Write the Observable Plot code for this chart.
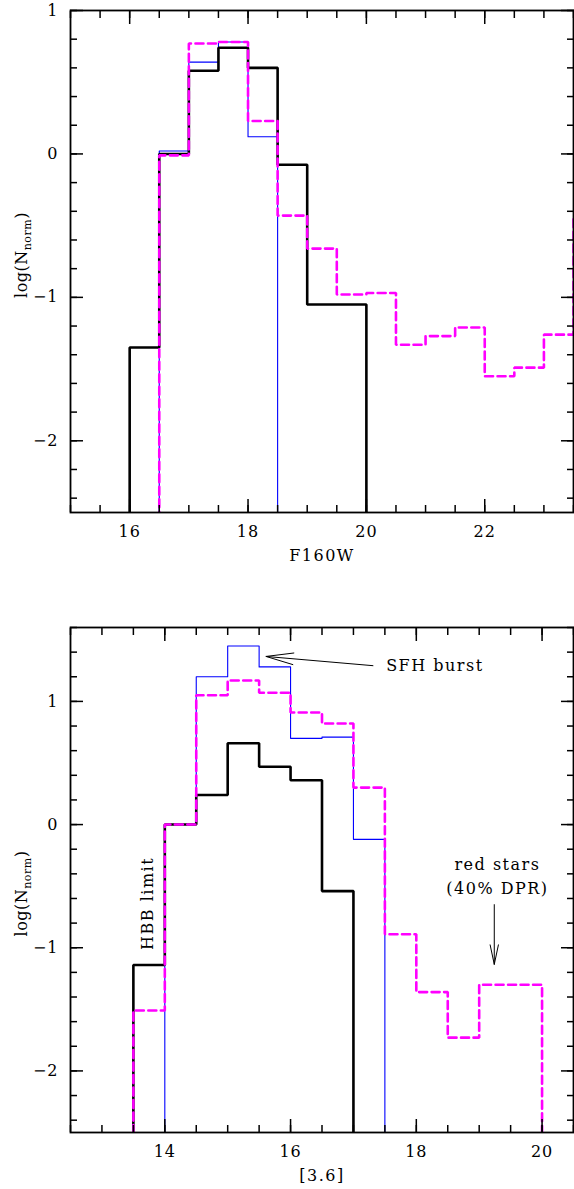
<!DOCTYPE html>
<html><head><meta charset="utf-8">
<script src="https://cdn.jsdelivr.net/npm/d3@7"></script>
<script src="https://cdn.jsdelivr.net/npm/@observablehq/plot@0.6"></script>
<style>
body{margin:0;background:#fff}
#chart svg{display:block}
</style>
</head><body><div id="chart"></div>
<script>
// ---------- data ----------
const BIN = 0.5;        // bin width (mag)
const EMPTY = -9;       // log of an empty bin (drawn below the axis and clipped)

// Top panel: F160W
const topBinStarts = [16,16.5,17,17.5,18,18.5,19,19.5,20,20.5,21,21.5,22,22.5,23,23.5];
const topBlack   = [-1.35,0.00,0.58,0.74,0.60,-0.075,-1.05,-1.05,null,null,null,null,null,null,null,null];
const topBlue    = [null,0.02,0.64,0.78,0.12,null,null,null,null,null,null,null,null,null,null,null];
const topMagenta = [null,-0.01,0.77,0.78,0.23,-0.43,-0.66,-0.98,-0.97,-1.33,-1.27,-1.21,-1.55,-1.49,-1.26,-0.44];
const topXMajor = [16,18,20,22];
const topXMinor = [15,15.5,16,16.5,17,17.5,18,18.5,19,19.5,20,20.5,21,21.5,22,22.5,23,23.5];
const topYMajor = [-2,-1,0,1];
const topYMinor = [-2.4,-2.2,-2,-1.8,-1.6,-1.4,-1.2,-1,-0.8,-0.6,-0.4,-0.2,0,0.2,0.4,0.6,0.8,1];

// Bottom panel: [3.6]
const botBinStarts = [13.5,14,14.5,15,15.5,16,16.5,17,17.5,18,18.5,19,19.5];
const botBlack   = [-1.14,0.00,0.24,0.66,0.47,0.36,-0.54,null,null,null,null,null,null];
const botBlue    = [null,0.00,1.20,1.45,1.28,0.70,0.71,-0.12,null,null,null,null,null];
const botMagenta = [-1.51,0.00,1.05,1.17,1.07,0.91,0.82,0.30,-0.89,-1.36,-1.73,-1.30,-1.30];
const botXMajor = [14,16,18,20];
const botXMinor = [12.5,13,13.5,14,14.5,15,15.5,16,16.5,17,17.5,18,18.5,19,19.5,20,20.5];
const botYMajor = [-2,-1,0,1];
const botYMinor = [-2.4,-2.2,-2,-1.8,-1.6,-1.4,-1.2,-1,-0.8,-0.6,-0.4,-0.2,0,0.2,0.4,0.6,0.8,1,1.2,1.4,1.6];

// Annotations (data coordinates of bottom panel)
const sfhLabel = {text: "SFH burst", x: 17.52, y: 1.285};
const sfhArrow = {x1: 17.31, y1: 1.29, x2: 15.61, y2: 1.365};
const redLabel = {text: "red stars\n(40% DPR)", x: 19.29, y: -0.40};
const redArrow = {x1: 19.24, y1: -0.65, x2: 19.24, y2: -1.135};
const hbbLabel = {text: "HBB limit", x: 13.73, y: -0.64};

// ---------- helpers ----------
function steps(starts, values) {
  const pts = [];
  let open = false;
  starts.forEach((x0, i) => {
    const v = values[i];
    if (v == null) {
      if (open) pts.push({x: x0, y: EMPTY});
      open = false;
      return;
    }
    if (!open) pts.push({x: x0, y: EMPTY});
    pts.push({x: x0, y: v}, {x: x0 + BIN, y: v});
    open = true;
  });
  if (open) pts.push({x: starts[starts.length - 1] + BIN, y: EMPTY});
  return pts;
}

const W = 574, ML = 70, MR = 1;
const FONT = "DejaVu Serif";
const TICK = {stroke: "#000", strokeWidth: 1.5};

function panel(o) {
  const frameH = o.height - o.marginTop - o.marginBottom;
  const MAJ = 13, MIN = 7;
  const svg = Plot.plot({
    width: W, height: o.height,
    marginLeft: ML, marginRight: MR, marginTop: o.marginTop, marginBottom: o.marginBottom,
    style: {fontFamily: FONT, fontSize: "16px", background: "#fff", color: "#000"},
    x: {domain: o.xDomain, label: null},
    y: {domain: o.yDomain, label: null},
    marks: [
      Plot.line(steps(o.starts, o.blue), {x: "x", y: "y", stroke: "#0000ff", strokeWidth: 1.1, clip: true}),
      Plot.line(steps(o.starts, o.black), {x: "x", y: "y", stroke: "#000", strokeWidth: 2.6, clip: true, strokeLinejoin: "miter"}),
      Plot.line(steps(o.starts, o.magenta), {x: "x", y: "y", stroke: "#ff00ff", strokeWidth: 2.6, strokeDasharray: "8,4.5", clip: true, strokeLinejoin: "miter"}),
      Plot.frame({stroke: "#000", strokeWidth: 1.8}),
      Plot.axisX(o.xMajor, {anchor: "bottom", tickSize: 0, tickPadding: 13, label: null, fontSize: 16, tickFormat: "d"}),
      Plot.axisY(o.yMajor, {anchor: "left", tickSize: 0, tickPadding: 12, label: null, fontSize: 16, tickFormat: "d"}),
      Plot.text([o.xLabel], {frameAnchor: "bottom", dy: 48, lineAnchor: "bottom", fontSize: 16}),
      ...(o.extra || []),
      // inward ticks on all four sides (negative tick size = inside the frame)
      Plot.axisX(o.xMinor, {anchor: "bottom", tickSize: -MIN, tickFormat: () => "", label: null, ...TICK}),
      Plot.axisX(o.xMinor, {anchor: "top", tickSize: -MIN, tickFormat: () => "", label: null, ...TICK}),
      Plot.axisX(o.xMajor, {anchor: "bottom", tickSize: -MAJ, tickFormat: () => "", label: null, ...TICK}),
      Plot.axisX(o.xMajor, {anchor: "top", tickSize: -MAJ, tickFormat: () => "", label: null, ...TICK}),
      Plot.axisY(o.yMinor, {anchor: "left", tickSize: -MIN, tickFormat: () => "", label: null, ...TICK}),
      Plot.axisY(o.yMinor, {anchor: "right", tickSize: -MIN, tickFormat: () => "", label: null, ...TICK}),
      Plot.axisY(o.yMajor, {anchor: "left", tickSize: -MAJ, tickFormat: () => "", label: null, ...TICK}),
      Plot.axisY(o.yMajor, {anchor: "right", tickSize: -MAJ, tickFormat: () => "", label: null, ...TICK})
    ]
  });
  // y-axis label with subscript
  const d3svg = d3.select(svg);
  const cy = o.marginTop + frameH / 2 + o.yLabelShift;
  const t = d3svg.append("text")
    .attr("transform", `translate(27,${cy}) rotate(-90)`)
    .attr("text-anchor", "middle")
    .attr("font-family", FONT)
    .attr("font-size", 16)
    .attr("letter-spacing", "0.5px")
    .attr("fill", "#000");
  t.append("tspan").text("log(N");
  t.append("tspan").attr("font-size", 11).attr("dy", 4).text("norm");
  t.append("tspan").attr("dy", -4).text(")");
  return svg;
}

const annStyle = {fontSize: 16, fill: "#000"};

const topPanel = panel({
  height: 575, marginTop: 10, marginBottom: 63,
  xDomain: [15, 23.5], yDomain: [-2.5, 1],
  starts: topBinStarts, black: topBlack, blue: topBlue, magenta: topMagenta,
  xMajor: topXMajor, xMinor: topXMinor, yMajor: topYMajor, yMinor: topYMinor,
  xLabel: "F160W", yLabelShift: -6
});

const bottomPanel = panel({
  height: 614, marginTop: 52, marginBottom: 57,
  xDomain: [12.5, 20.5], yDomain: [-2.5, 1.6],
  starts: botBinStarts, black: botBlack, blue: botBlue, magenta: botMagenta,
  xMajor: botXMajor, xMinor: botXMinor, yMajor: botYMajor, yMinor: botYMinor,
  xLabel: "[3.6]", yLabelShift: 14,
  extra: [
    Plot.arrow([sfhArrow], {x1: "x1", y1: "y1", x2: "x2", y2: "y2", headLength: 42, headAngle: 24, strokeWidth: 1, inset: 0, stroke: "#000"}),
    Plot.arrow([redArrow], {x1: "x1", y1: "y1", x2: "x2", y2: "y2", headLength: 42, headAngle: 24, strokeWidth: 1, inset: 0, stroke: "#000"}),
    Plot.text([sfhLabel], {x: "x", y: "y", text: "text", textAnchor: "start", lineAnchor: "middle", ...annStyle}),
    Plot.text([redLabel], {x: "x", y: "y", text: "text", textAnchor: "middle", lineAnchor: "middle", lineHeight: 1.5, ...annStyle}),
    Plot.text([hbbLabel], {x: "x", y: "y", text: "text", rotate: -90, textAnchor: "middle", lineAnchor: "middle", ...annStyle})
  ]
});

document.getElementById("chart").append(topPanel, bottomPanel);
// wide letter spacing, as in the PGPLOT font
d3.selectAll("#chart svg g[aria-label='text'] text").style("letter-spacing", "1.5px");
d3.selectAll("#chart svg g[aria-label='x-axis tick label'] text, #chart svg g[aria-label='y-axis tick label'] text").style("letter-spacing", "1px");
</script>
</body></html>
